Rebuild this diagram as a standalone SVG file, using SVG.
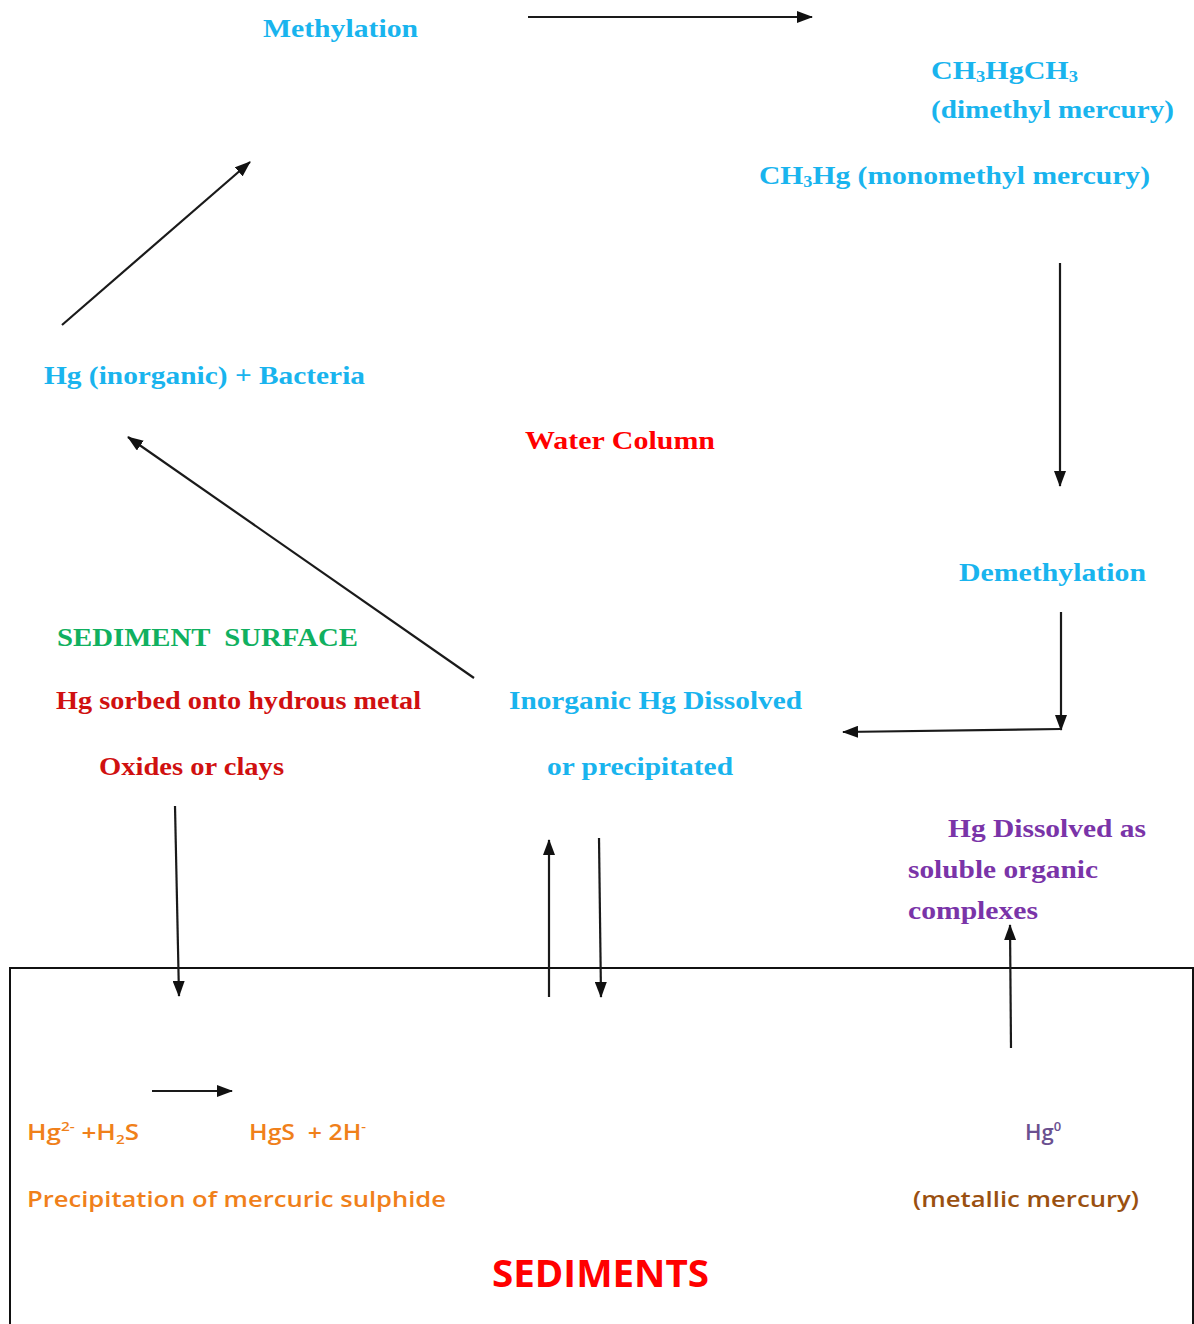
<svg xmlns="http://www.w3.org/2000/svg" width="1194" height="1324" viewBox="0 0 1194 1324">
<defs>
<marker id="ah" markerWidth="16" markerHeight="12" refX="15" refY="6" orient="auto" markerUnits="userSpaceOnUse">
<path d="M0,0 L16,6 L0,12 Z" fill="#111"/>
</marker>
<style>
.s{font-family:"Liberation Serif",serif;font-weight:bold;font-size:26px}
.c{fill:#19b4ee}
.r{fill:#ff0000}
.g{fill:#10b060}
.dr{fill:#d01010}
.p{fill:#7a34a8}
.o{font-family:"Open Sans","Liberation Sans",sans-serif;font-weight:600;font-size:22px;fill:#f0801a}
.ln{stroke:#1a1a1a;stroke-width:2.2;fill:none;marker-end:url(#ah)}
</style>
</defs>
<rect width="1194" height="1324" fill="#fff"/>
<rect x="10" y="968" width="1183" height="380" fill="none" stroke="#111" stroke-width="2"/>
<g id="connectors">
<line class="ln" x1="528" y1="17" x2="812" y2="17"/>
<line class="ln" x1="62" y1="325" x2="250" y2="162"/>
<line class="ln" x1="1060" y1="263" x2="1060" y2="486"/>
<line class="ln" x1="474" y1="678" x2="128" y2="437"/>
<line class="ln" x1="1061" y1="612" x2="1061" y2="730"/>
<line class="ln" x1="1061" y1="729" x2="843" y2="732"/>
<line class="ln" x1="175" y1="806" x2="179" y2="996"/>
<line class="ln" x1="549" y1="997" x2="549" y2="840"/>
<line class="ln" x1="599" y1="838" x2="601" y2="997"/>
<line class="ln" x1="1011" y1="1048" x2="1010" y2="925"/>
<line class="ln" x1="152" y1="1091" x2="232" y2="1091"/>
</g>
<g id="methylation"><text class="s c" x="263" y="37" textLength="155" lengthAdjust="spacingAndGlyphs">Methylation</text></g>
<g id="dimethyl">
<text class="s c" x="931" y="79" textLength="147" lengthAdjust="spacingAndGlyphs">CH<tspan font-size="16" dy="3">3</tspan><tspan dy="-3">HgCH</tspan><tspan font-size="16" dy="3">3</tspan></text>
<text class="s c" x="931" y="118" textLength="243" lengthAdjust="spacingAndGlyphs">(dimethyl mercury)</text>
</g>
<g id="monomethyl"><text class="s c" x="759" y="184" textLength="391" lengthAdjust="spacingAndGlyphs">CH<tspan font-size="16" dy="3">3</tspan><tspan dy="-3">Hg (monomethyl mercury)</tspan></text></g>
<g id="hg-bacteria"><text class="s c" x="44" y="384" textLength="321" lengthAdjust="spacingAndGlyphs">Hg (inorganic) + Bacteria</text></g>
<g id="water-column"><text class="s r" x="525" y="449" textLength="190" lengthAdjust="spacingAndGlyphs">Water Column</text></g>
<g id="demethylation"><text class="s c" x="959" y="581" textLength="187" lengthAdjust="spacingAndGlyphs">Demethylation</text></g>
<g id="sediment-surface">
<text class="s g" x="57" y="646" textLength="301" lengthAdjust="spacingAndGlyphs" xml:space="preserve" style="white-space:pre">SEDIMENT  SURFACE</text>
<text class="s dr" x="56" y="709" textLength="365" lengthAdjust="spacingAndGlyphs">Hg sorbed onto hydrous metal</text>
<text class="s dr" x="99" y="775" textLength="185" lengthAdjust="spacingAndGlyphs">Oxides or clays</text>
</g>
<g id="inorganic-hg">
<text class="s c" x="509" y="709" textLength="293" lengthAdjust="spacingAndGlyphs">Inorganic Hg Dissolved</text>
<text class="s c" x="547" y="775" textLength="186" lengthAdjust="spacingAndGlyphs">or precipitated</text>
</g>
<g id="hg-dissolved-organic">
<text class="s p" x="948" y="837" textLength="198" lengthAdjust="spacingAndGlyphs">Hg Dissolved as</text>
<text class="s p" x="908" y="878" textLength="190" lengthAdjust="spacingAndGlyphs">soluble organic</text>
<text class="s p" x="908" y="919" textLength="130" lengthAdjust="spacingAndGlyphs">complexes</text>
</g>
<g id="hgs-reaction">
<text class="o" x="27" y="1140" textLength="112" lengthAdjust="spacingAndGlyphs">Hg<tspan font-size="13" dy="-9">2-</tspan><tspan dy="9"> +H</tspan><tspan font-size="13" dy="4">2</tspan><tspan dy="-4">S</tspan></text>
<text class="o" x="249" y="1140" textLength="117" lengthAdjust="spacingAndGlyphs" xml:space="preserve" style="white-space:pre">HgS  + 2H<tspan font-size="13" dy="-9">-</tspan></text>
<text class="o" x="27" y="1207" textLength="419" lengthAdjust="spacingAndGlyphs">Precipitation of mercuric sulphide</text>
</g>
<g id="hg0">
<text class="o" x="1025" y="1140" style="fill:#6a5090">Hg<tspan font-size="13" dy="-9">0</tspan></text>
<text class="o" x="913" y="1207" textLength="226" lengthAdjust="spacingAndGlyphs" style="fill:#9a5010">(metallic mercury)</text>
</g>
<g id="sediments"><text x="492" y="1287" font-family="Open Sans, Liberation Sans, sans-serif" font-weight="bold" font-size="38" fill="#ff0000" textLength="217" lengthAdjust="spacingAndGlyphs">SEDIMENTS</text></g>
</svg>
